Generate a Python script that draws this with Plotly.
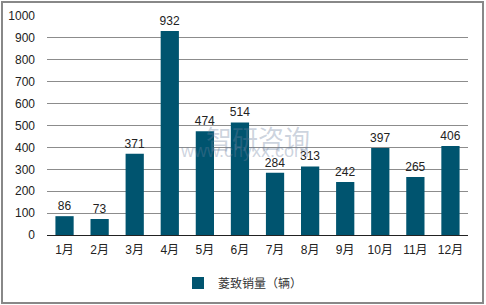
import plotly.graph_objects as go

months = ["1月", "2月", "3月", "4月", "5月", "6月", "7月", "8月", "9月", "10月", "11月", "12月"]
sales = [86, 73, 371, 932, 474, 514, 284, 313, 242, 397, 265, 406]
series_name = "菱致销量（辆）"
y_ticks = [0, 100, 200, 300, 400, 500, 600, 700, 800, 900, 1000]

FONT = "Liberation Sans, Arial, Noto Sans CJK SC"

fig = go.Figure()
fig.add_trace(go.Bar(
    x=months, y=sales, name=series_name,
    marker=dict(color="#00546F", line=dict(width=0)),
    text=[str(v) for v in sales], textposition="outside", constraintext="none",
    textfont=dict(size=12, color="#222222", family=FONT),
    cliponaxis=False,
))

fig.update_layout(
    width=486, height=305,
    margin=dict(l=47, r=18, t=16, b=70, autoexpand=False),
    paper_bgcolor="white", plot_bgcolor="white",
    bargap=0.48,
    showlegend=True,
    legend=dict(orientation="h", x=0.5, xanchor="center", xref="container",
                y=1 - 283/305, yanchor="middle", yref="container",
                font=dict(size=12, color="#333333", family="Noto Sans CJK SC, Liberation Sans")),
    font=dict(family=FONT, size=12, color="#222222"),
    xaxis=dict(showgrid=False, showline=True, linecolor="#222222", linewidth=1,
               ticks="", ticklabelstandoff=4, tickfont=dict(size=12, family=FONT, color="#222222")),
    yaxis=dict(range=[0, 1000], tickvals=y_ticks, showgrid=True, gridcolor="#8c8c8c",
               gridwidth=1, zeroline=False, showline=False, ticks="",
               ticklabelstandoff=11, tickfont=dict(size=12, family=FONT, color="#222222")),
    shapes=[dict(type="rect", xref="paper", yref="paper",
                 x0=-45/421, x1=(483-47)/421, y0=-68/219, y1=1+14/219,
                 line=dict(color="#888888", width=2), fillcolor="rgba(0,0,0,0)", layer="below")],
    annotations=[
        dict(text="智研咨询", xref="paper", yref="paper", x=0.5, y=0.447, showarrow=False,
             font=dict(size=26, color="rgba(110,130,160,0.35)", family="Noto Sans CJK SC")),
        dict(text="www.chyxx.com", xref="paper", yref="paper", x=0.47, y=0.33, showarrow=False,
             font=dict(size=18, color="rgba(110,130,160,0.35)", family=FONT)),
    ],
)

fig.write_html("out.html")
